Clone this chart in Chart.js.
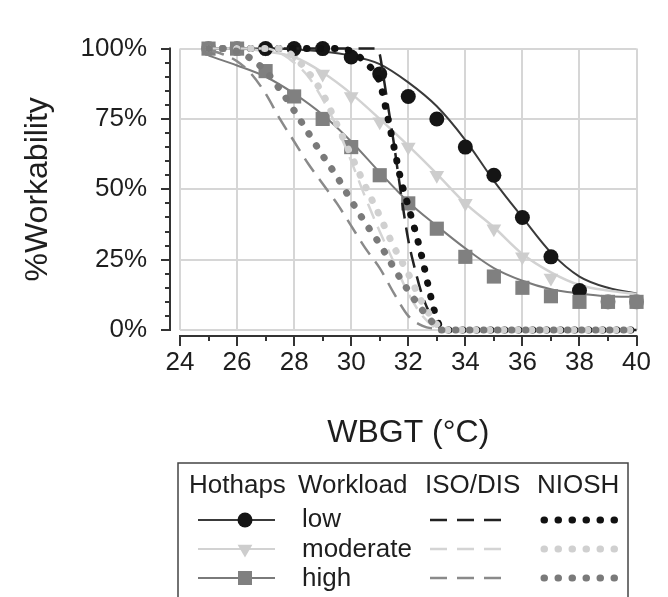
<!DOCTYPE html>
<html>
<head>
<meta charset="utf-8">
<script src="https://cdn.jsdelivr.net/npm/chart.js@4.4.1/dist/chart.umd.min.js"></script>
<style>
  html, body { margin: 0; padding: 0; background: #fff; }
  #wrap { width: 668px; height: 597px; }
</style>
</head>
<body>
<div id="wrap"><canvas id="chart" width="668" height="597"></canvas></div>
<script>
// Hothaps observed workability (markers)
const hothapsT = [25, 26, 27, 28, 29, 30, 31, 32, 33, 34, 35, 36, 37, 38, 39, 40];
const hothapsLow = [100, 100, 100, 100, 100, 97, 91, 83, 75, 65, 55, 40, 26, 14, 10, 10];
const hothapsModerate = [100, 100, 100, 98, 91, 83, 74, 65, 55, 45, 36, 26, 18.5, 12, 10, 10];
const hothapsHigh = [100, 100, 92, 83, 75, 65, 55, 45, 36, 26, 19, 15, 12, 10, 10, 10];

// Hothaps fitted curves (solid lines)
const fitT = [25, 26, 27, 28, 29, 30, 31, 32, 33, 34, 35, 36, 37, 38, 39, 40];
const fitLow = [100, 100, 100, 99.7, 99, 97.5, 94.5, 88, 79.5, 67.5, 53, 40, 27.5, 19, 15, 13];
const fitModerate = [100, 100, 99, 97, 91.5, 84, 75, 65.5, 55.5, 45, 36.5, 27, 20.5, 16, 14, 12.8];
const fitHigh = [97.5, 94, 90, 84, 76.5, 67, 56, 45.5, 37, 29, 22, 17.5, 14.5, 13, 12, 11.8];

// ISO/DIS (dashed)
const isoLowT = [25, 30.9, 31, 31.1, 31.3, 31.5, 31.75, 32, 32.25, 32.5, 32.75, 33, 33.2, 40];
const isoLow = [100, 100, 98, 92, 79, 66, 48, 32, 21, 12, 6, 2, 0, 0];
const isoModT = [25, 27, 27.5, 28, 28.5, 29, 29.5, 30, 30.5, 31, 31.5, 32, 32.5, 33, 33.2, 40];
const isoMod = [100, 100, 98.5, 95, 90, 82, 72, 60, 47, 35, 24, 13, 5, 0.5, 0, 0];
const isoHighT = [25, 25.5, 26, 26.5, 27, 27.5, 28, 28.5, 29, 29.5, 30, 30.5, 31, 31.5, 32, 32.5, 33, 33.2, 40];
const isoHigh = [99.5, 98, 95.5, 91, 84, 75, 67, 59, 52, 45, 37, 29, 22, 13, 5, 1.5, 0.3, 0, 0];

// NIOSH (dotted)
const nioshLowT = [25, 29.5, 30, 30.5, 31, 31.25, 31.5, 31.75, 32, 32.25, 32.5, 32.75, 33, 33.2, 40];
const nioshLow = [100, 100, 99, 95, 88, 77, 65, 53, 44, 35, 25, 13.5, 4, 0, 0];
const nioshModT = [25, 27.5, 28, 28.5, 29, 29.5, 30, 30.5, 31, 31.5, 32, 32.5, 33, 33.15, 40];
const nioshMod = [100, 100, 97, 91.5, 84, 73, 62, 51, 40.5, 29.5, 20, 9.5, 2, 0, 0];
const nioshHighT = [25, 25.5, 26, 26.4, 27, 27.5, 28, 28.5, 29, 29.5, 30, 30.5, 31, 31.5, 32, 32.5, 33, 33.1, 40];
const nioshHigh = [100, 100, 99, 97, 92, 85.5, 78, 70, 62, 54.5, 46, 38, 30.5, 22, 14, 7, 1, 0, 0];

const legendHeaders = ['Hothaps', 'Workload', 'ISO/DIS', 'NIOSH'];
const workloads = ['low', 'moderate', 'high'];

const FONT = '"Liberation Sans", Arial, sans-serif';
const TXT = '#1e1e1e';
const C_LOW = '#151515', C_MOD = '#cdcdcd', C_HIGH = '#808080';

const pts = (xs, ys) => xs.map((v, i) => ({ x: v, y: ys[i] }));

const curve = (label, xs, ys, color, extra) => Object.assign({
  label, data: pts(xs, ys), borderColor: color, borderWidth: 2,
  pointRadius: 0, pointHoverRadius: 0, fill: false, clip: false,
  cubicInterpolationMode: 'monotone'
}, extra);

const markers = (label, ys, color, style, r, extra) => Object.assign({
  label, data: pts(hothapsT, ys), showLine: false, clip: false,
  pointStyle: style, pointRadius: r, pointHoverRadius: r,
  pointBackgroundColor: color, pointBorderColor: color, pointBorderWidth: 0
}, extra);

const dotted = { borderWidth: 7, borderDash: [0.5, 13.5], borderCapStyle: 'round' };
const dashed = { borderWidth: 2.5, borderDash: [16, 9] };

// per-point colours for the low markers (the end ones look grey in the source)
const lowMarkerColors = hothapsT.map(t => (t <= 26 || t >= 39) ? C_HIGH : C_LOW);

const datasets = [
  curve('NIOSH high', nioshHighT, nioshHigh, '#7a7a7a', Object.assign({ order: 1 }, dotted)),
  curve('NIOSH moderate', nioshModT, nioshMod, '#d0d0d0', Object.assign({ order: 2 }, dotted)),
  curve('NIOSH low', nioshLowT, nioshLow, '#111', Object.assign({ order: 3 }, dotted)),
  curve('ISO high', isoHighT, isoHigh, '#8a8a8a', Object.assign({ order: 4 }, dashed)),
  curve('ISO moderate', isoModT, isoMod, '#d4d4d4', Object.assign({ order: 5 }, dashed)),
  curve('ISO low', isoLowT, isoLow, '#222', Object.assign({ order: 6 }, dashed)),
  markers('Hothaps high', hothapsHigh, C_HIGH, 'rect', 10, { order: 7 }),
  markers('Hothaps low', hothapsLow, lowMarkerColors, 'circle', 7.5, { order: 8 }),
  markers('Hothaps moderate', hothapsModerate, C_MOD, 'triangle', 8.5, { order: 9, rotation: 180 }),
  curve('Hothaps high fit', fitT, fitHigh, '#7a7a7a', { order: 10 }),
  curve('Hothaps moderate fit', fitT, fitModerate, '#d2d2d2', { order: 11, borderWidth: 2.5 }),
  curve('Hothaps low fit', fitT, fitLow, '#3a3a3a', { order: 12 })
];

function drawMarker(ctx, style, x, y, r, color) {
  ctx.fillStyle = color;
  ctx.beginPath();
  if (style === 'circle') {
    ctx.arc(x, y, r, 0, Math.PI * 2);
  } else if (style === 'triangle') {
    ctx.moveTo(x - r * 0.87, y - r * 0.5);
    ctx.lineTo(x + r * 0.87, y - r * 0.5);
    ctx.lineTo(x, y + r);
    ctx.closePath();
  } else {
    ctx.rect(x - r * 0.7, y - r * 0.7, r * 1.4, r * 1.4);
  }
  ctx.fill();
}

const axesAndLegend = {
  id: 'axesAndLegend',
  afterDraw(chart) {
    const { ctx, scales: { x, y } } = chart;
    ctx.save();
    // detached y axis with minor ticks
    ctx.strokeStyle = '#333';
    ctx.lineWidth = 2;
    const ax = x.left - 10;
    ctx.beginPath();
    ctx.moveTo(ax, y.getPixelForValue(100) - 1);
    ctx.lineTo(ax, y.getPixelForValue(0) + 1);
    for (let v = 0; v <= 100; v += 5) {
      const py = Math.round(y.getPixelForValue(v));
      const len = v % 25 === 0 ? 9 : 5;
      ctx.moveTo(ax - len, py);
      ctx.lineTo(ax, py);
    }
    // detached x axis with minor ticks
    const ay = y.bottom + 6;
    ctx.moveTo(x.getPixelForValue(24) - 1, ay);
    ctx.lineTo(x.getPixelForValue(40) + 1, ay);
    for (let v = 24; v <= 40; v += 1) {
      const px = Math.round(x.getPixelForValue(v));
      const len = v % 2 === 0 ? 10 : 5;
      ctx.moveTo(px, ay);
      ctx.lineTo(px, ay + len);
    }
    ctx.stroke();

    // legend table
    ctx.strokeStyle = '#444';
    ctx.lineWidth = 1.5;
    ctx.strokeRect(178, 463, 450, 160);
    ctx.fillStyle = TXT;
    ctx.font = '26px ' + FONT;
    ctx.textBaseline = 'alphabetic';
    const hx = [189, 298, 425, 537];
    legendHeaders.forEach((h, i) => ctx.fillText(h, hx[i], 493));

    const rowY = [520, 549, 578];
    const baseY = [527, 557, 586];
    const hotCol = [['#3a3a3a', C_LOW, 'circle', 7.5], ['#d2d2d2', C_MOD, 'triangle', 8.5], ['#7a7a7a', C_HIGH, 'rect', 10]];
    const isoCol = ['#222', '#d4d4d4', '#8a8a8a'];
    const nioCol = ['#111', '#d0d0d0', '#7a7a7a'];
    workloads.forEach((w, i) => {
      const yy = rowY[i];
      ctx.fillStyle = TXT;
      ctx.fillText(w, 302, baseY[i]);
      // hothaps sample
      ctx.strokeStyle = hotCol[i][0];
      ctx.lineWidth = 2;
      ctx.setLineDash([]);
      ctx.beginPath(); ctx.moveTo(198, yy); ctx.lineTo(275, yy); ctx.stroke();
      drawMarker(ctx, hotCol[i][2], 245, yy, hotCol[i][3], hotCol[i][1]);
      // iso sample
      ctx.strokeStyle = isoCol[i];
      ctx.lineWidth = 2.5;
      ctx.setLineDash([17, 10]);
      ctx.beginPath(); ctx.moveTo(430, yy); ctx.lineTo(501, yy); ctx.stroke();
      // niosh sample
      ctx.strokeStyle = nioCol[i];
      ctx.lineWidth = 7;
      ctx.lineCap = 'round';
      ctx.setLineDash([0.5, 13.5]);
      ctx.beginPath(); ctx.moveTo(544, yy); ctx.lineTo(616, yy); ctx.stroke();
      ctx.lineCap = 'butt';
    });
    ctx.restore();
  }
};

new Chart(document.getElementById('chart'), {
  type: 'line',
  data: { datasets },
  plugins: [axesAndLegend],
  options: {
    responsive: false,
    animation: false,
    events: [],
    layout: { padding: { left: 0, top: 25, right: 29, bottom: 137 } },
    plugins: { legend: { display: false }, tooltip: { enabled: false } },
    scales: {
      x: {
        type: 'linear', min: 24, max: 40,
        afterFit: s => { s.height = 130; },
        ticks: { stepSize: 2, color: TXT, padding: 17, font: { family: FONT, size: 26 } },
        grid: { color: '#d6d6d6', lineWidth: 2, drawTicks: false },
        border: { display: false },
        title: { display: true, text: 'WBGT (°C)', color: TXT, font: { family: FONT, size: 32 }, padding: { top: 0, bottom: 8 } }
      },
      y: {
        min: 0, max: 100,
        afterFit: s => { s.width = 180; },
        ticks: { stepSize: 25, color: TXT, padding: 33, font: { family: FONT, size: 26 }, callback: v => v + '%' },
        grid: { color: '#d6d6d6', lineWidth: 2, drawTicks: false },
        border: { display: false },
        title: { display: true, text: '%Workability', color: TXT, font: { family: FONT, size: 32 }, padding: { top: 19, bottom: 0 } }
      }
    }
  }
});
</script>
</body>
</html>
